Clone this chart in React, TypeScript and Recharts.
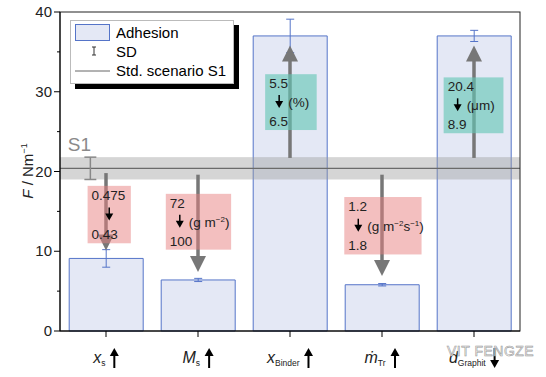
import React from "react";
import {
  Bar,
  ComposedChart,
  ErrorBar,
  ReferenceDot,
  ReferenceLine,
  XAxis,
  YAxis,
} from "recharts";

const FONT = "'Liberation Sans', Arial, Helvetica, sans-serif";

// categories (x axis)
const catMain = ["x", "M", "x", "ṁ", "d"];
const catSub = ["s", "s", "Binder", "Tr", "Graphit"];
const catTrend = ["up", "up", "up", "up", "down"];
const catPos = [0.5, 1.5, 2.5, 3.5, 4.5];

// adhesion F in N/m
const adhesion = [9.1, 6.4, 37.0, 5.8, 37.0];
const adhesionSd = [1.1, 0.2, 2.1, 0.15, 0.7];

// standard scenario S1
const s1Value = 20.4;
const s1Sd = 1.4;

// parameter change annotations
const fromLabels = ["0.475", "72", "5.5", "1.2", "20.4"];
const toLabels = ["0.43", "100", "6.5", "1.8", "8.9"];
const unitKeys = ["", "gm2", "%", "gm2s", "um"];
const effect = ["down", "down", "up", "down", "up"];
const arrowFrom = [19.8, 19.6, 21.7, 19.6, 21.7];
const arrowTo = [10.1, 7.4, 35.8, 6.9, 35.8];
const boxLeft = [0.3, 1.15, 2.23, 3.09, 4.17];
const boxRight = [0.77, 1.86, 2.79, 3.93, 4.82];
const boxTop = [18.2, 17.2, 32.2, 16.8, 31.8];
const boxBottom = [11.0, 10.2, 25.2, 9.6, 24.8];

const yTicks = [0, 5, 10, 15, 20, 25, 30, 35, 40];

const rows = catSub.map((s, i) => ({
  name: catMain[i] + s,
  pos: catPos[i],
  value: adhesion[i],
  sd: adhesionSd[i],
}));

const BAR_FILL = "#e4e8f5";
const BAR_STROKE = "#5574c8";
const ARROW = "#777";

// rough Arial advance widths (em)
const CW: Record<string, number> = {
  x: 0.5, M: 0.833, d: 0.556, "ṁ": 0.833, m: 0.833, s: 0.5, B: 0.667, i: 0.222,
  n: 0.556, e: 0.556, r: 0.333, T: 0.611, G: 0.778, a: 0.556, p: 0.556, h: 0.556, t: 0.278,
};
const textW = (s: string, size: number) =>
  [...s].reduce((acc, c) => acc + (CW[c] ?? 0.55), 0) * size;

function TrendArrow({ x, top, bottom, dir }: { x: number; top: number; bottom: number; dir: string }) {
  const hw = 4.5;
  const hl = 8;
  if (dir === "up") {
    return (
      <g>
        <line x1={x} x2={x} y1={top + hl - 1} y2={bottom} stroke="#000" strokeWidth={2} />
        <polygon points={`${x},${top} ${x - hw},${top + hl} ${x + hw},${top + hl}`} fill="#000" />
      </g>
    );
  }
  return (
    <g>
      <line x1={x} x2={x} y1={top} y2={bottom - hl + 1} stroke="#000" strokeWidth={2} />
      <polygon points={`${x},${bottom} ${x - hw},${bottom - hl} ${x + hw},${bottom - hl}`} fill="#000" />
    </g>
  );
}

function CatTick(props: any) {
  const { x, y, payload } = props;
  const i = payload.index;
  const main = catMain[i];
  const sub = catSub[i];
  const w = textW(main, 16) * 1.05 + textW(sub, 8.5) + 4 + 9;
  const x0 = x - w / 2;
  return (
    <g>
      <line x1={x} x2={x} y1={y} y2={y + 6} stroke="#000" />
      <text x={x0} y={y + 32} fontFamily={FONT} fontSize={16} fontStyle="italic" fill="#222">
        {main}
        <tspan fontStyle="normal" fontSize={8.5} dy={3}>
          {sub}
        </tspan>
      </text>
      <TrendArrow x={x0 + w - 4.5} top={y + 17} bottom={y + 37} dir={catTrend[i]} />
    </g>
  );
}

function YTick(props: any) {
  const { x, y, payload } = props;
  const v = payload.value;
  const major = v % 10 === 0;
  return (
    <g>
      <line x1={x - (major ? 6 : 3)} x2={x} y1={y} y2={y} stroke="#000" />
      {major && (
        <text x={x - 8} y={y + 5} textAnchor="end" fontFamily={FONT} fontSize={15} fill="#222">
          {v}
        </text>
      )}
    </g>
  );
}

function Unit({ k }: { k: string }) {
  if (k === "gm2")
    return (
      <>
        <tspan>(g m</tspan>
        <tspan fontSize={8} dy={-5}>−2</tspan>
        <tspan dy={5}>)</tspan>
      </>
    );
  if (k === "gm2s")
    return (
      <>
        <tspan>(g m</tspan>
        <tspan fontSize={8} dy={-5}>−2</tspan>
        <tspan dy={5}>s</tspan>
        <tspan fontSize={8} dy={-5}>−1</tspan>
        <tspan dy={5}>)</tspan>
      </>
    );
  if (k === "um") return <tspan>(μm)</tspan>;
  return <tspan>({k})</tspan>;
}

// rectangle spanned by a diagonal reference segment
function rectOf(p: any) {
  const x = Math.min(p.x1, p.x2);
  const y = Math.min(p.y1, p.y2);
  return { x, y, width: Math.abs(p.x2 - p.x1), height: Math.abs(p.y2 - p.y1) };
}

function AnnotBox(p: any, i: number) {
  const { x, y, width, height } = rectOf(p);
  const unit = unitKeys[i];
  const ax = unit ? x + 14 : x + width / 2;
  const my = y + height / 2;
  const fill = effect[i] === "down" ? "rgba(232,128,128,0.5)" : "rgba(98,199,180,0.62)";
  return (
    <g>
      <rect x={x} y={y} width={width} height={height} fill={fill} />
      <g fontFamily={FONT} fontSize={13.5} fill="#222">
        <text x={x + 4} y={y + 14}>{fromLabels[i]}</text>
        {unit && (
          <text x={ax + 9} y={my + 5}>
            <Unit k={unit} />
          </text>
        )}
        <text x={x + 4} y={y + height - 4}>{toLabels[i]}</text>
      </g>
      <line x1={ax} x2={ax} y1={my - 7} y2={my + 1} stroke="#000" strokeWidth={1.5} />
      <polygon points={`${ax},${my + 6} ${ax - 4},${my - 1} ${ax + 4},${my - 1}`} fill="#000" />
    </g>
  );
}

function BigArrow(props: any) {
  const { x1, y1, x2, y2 } = props;
  const dir = y2 < y1 ? -1 : 1;
  const hl = 16;
  const hw = 8;
  const base = y2 - dir * hl;
  return (
    <g>
      <line x1={x1} x2={x2} y1={y1} y2={base + dir} stroke={ARROW} strokeWidth={3.5} />
      <polygon points={`${x2},${y2} ${x2 - hw},${base} ${x2 + hw},${base}`} fill={ARROW} />
    </g>
  );
}

function Legend() {
  return (
    <div
      style={{
        position: "absolute",
        left: 70,
        top: 20,
        width: 162,
        height: 62,
        background: "#fff",
        border: "1px solid #bbb",
        boxShadow: "5px 5px 0 #000",
        fontFamily: FONT,
        fontSize: 15,
        color: "#222",
      }}
    >
      <svg width={162} height={62} style={{ position: "absolute", left: 0, top: 0 }}>
        <rect x={4.5} y={3.5} width={34} height={16} fill={BAR_FILL} stroke={BAR_STROKE} />
        <line x1={23} x2={23} y1={26} y2={34} stroke="#333" />
        <line x1={21} x2={25} y1={26} y2={26} stroke="#333" />
        <line x1={21} x2={25} y1={34} y2={34} stroke="#333" />
        <line x1={4} x2={39} y1={50} y2={50} stroke="#666" />
        <text x={45} y={17}>Adhesion</text>
        <text x={45} y={36}>SD</text>
        <text x={45} y={55}>Std. scenario S1</text>
      </svg>
    </div>
  );
}

export default function App() {
  return (
    <div style={{ position: "absolute", left: 0, top: 0, width: 546, height: 377, background: "#fff" }}>
      <ComposedChart
        width={546}
        height={377}
        data={rows}
        margin={{ top: 12, right: 26, bottom: 0, left: 0 }}
        barCategoryGap="10%"
      >
        <XAxis
          xAxisId="cat"
          dataKey="name"
          height={46}
          tickSize={0}
          tickMargin={0}
          tick={<CatTick />}
          axisLine={{ stroke: "#000" }}
          interval={0}
        />
        <XAxis xAxisId="num" dataKey="pos" type="number" domain={[0, 5]} hide allowDataOverflow />
        <YAxis
          width={60}
          domain={[0, 40]}
          ticks={yTicks}
          interval={0}
          tickSize={0}
          tickMargin={0}
          tick={<YTick />}
          axisLine={{ stroke: "#000" }}
        />
        <Bar
          xAxisId="cat"
          dataKey="value"
          fill={BAR_FILL}
          stroke={BAR_STROKE}
          strokeWidth={1}
          isAnimationActive={false}
        >
          <ErrorBar dataKey="sd" width={4} stroke={BAR_STROKE} strokeWidth={1} />
        </Bar>

        {/* S1 SD band */}
        <ReferenceLine
          xAxisId="num"
          ifOverflow="visible"
          segment={[
            { x: 0, y: s1Value - s1Sd },
            { x: 5, y: s1Value + s1Sd },
          ]}
          shape={(p: any) => {
            const r = rectOf(p);
            return <rect {...r} fill="#9a9a9a" fillOpacity={0.42} />;
          }}
        />
        <ReferenceLine xAxisId="num" y={s1Value} stroke="#6a6a6a" strokeWidth={1.2} />

        {arrowFrom.map((f, i) => (
          <ReferenceLine
            key={`arrow-${i}`}
            xAxisId="num"
            ifOverflow="visible"
            segment={[
              { x: catPos[i], y: f },
              { x: catPos[i], y: arrowTo[i] },
            ]}
            shape={(p: any) => <BigArrow {...p} />}
          />
        ))}

        {boxLeft.map((bl, i) => (
          <ReferenceLine
            key={`box-${i}`}
            xAxisId="num"
            ifOverflow="visible"
            segment={[
              { x: bl, y: boxTop[i] },
              { x: boxRight[i], y: boxBottom[i] },
            ]}
            shape={(p: any) => AnnotBox(p, i)}
          />
        ))}

        {/* S1 error bar */}
        <ReferenceLine
          xAxisId="num"
          segment={[
            { x: 0.33, y: s1Value - s1Sd },
            { x: 0.33, y: s1Value + s1Sd },
          ]}
          stroke="#888"
          strokeWidth={1.5}
        />
        <ReferenceLine
          xAxisId="num"
          segment={[
            { x: 0.265, y: s1Value - s1Sd },
            { x: 0.395, y: s1Value - s1Sd },
          ]}
          stroke="#888"
          strokeWidth={1.5}
        />
        <ReferenceLine
          xAxisId="num"
          segment={[
            { x: 0.265, y: s1Value + s1Sd },
            { x: 0.395, y: s1Value + s1Sd },
          ]}
          stroke="#888"
          strokeWidth={1.5}
        />
        <ReferenceDot
          xAxisId="num"
          x={0.085}
          y={22.6}
          r={0}
          shape={(p: any) => (
            <text x={p.cx} y={p.cy} fontFamily={FONT} fontSize={19} fill="#8a8a8a">
              S1
            </text>
          )}
        />

        {/* plot frame */}
        <ReferenceLine
          xAxisId="num"
          ifOverflow="visible"
          segment={[
            { x: 0, y: 40 },
            { x: 5, y: 0 },
          ]}
          shape={(p: any) => {
            const r = rectOf(p);
            return <rect {...r} fill="none" stroke="#222" strokeWidth={1} />;
          }}
        />
      </ComposedChart>
      <svg
        width={546}
        height={377}
        style={{ position: "absolute", left: 0, top: 0, pointerEvents: "none" }}
      >
        <text
          transform="translate(33,171) rotate(-90)"
          textAnchor="middle"
          fontFamily={FONT}
          fontSize={15}
          fill="#222"
        >
          <tspan fontStyle="italic">F</tspan>
          <tspan> / Nm</tspan>
          <tspan fontSize={9} dy={-6}>
            −1
          </tspan>
        </text>
      </svg>
      <Legend />
      <div
        style={{
          position: "absolute",
          left: 447,
          top: 343,
          fontFamily: FONT,
          fontSize: 14,
          color: "#fff",
          WebkitTextStroke: "0.6px #999",
          letterSpacing: 0.5,
        }}
      >
        VIT FENGZE
      </div>
    </div>
  );
}
